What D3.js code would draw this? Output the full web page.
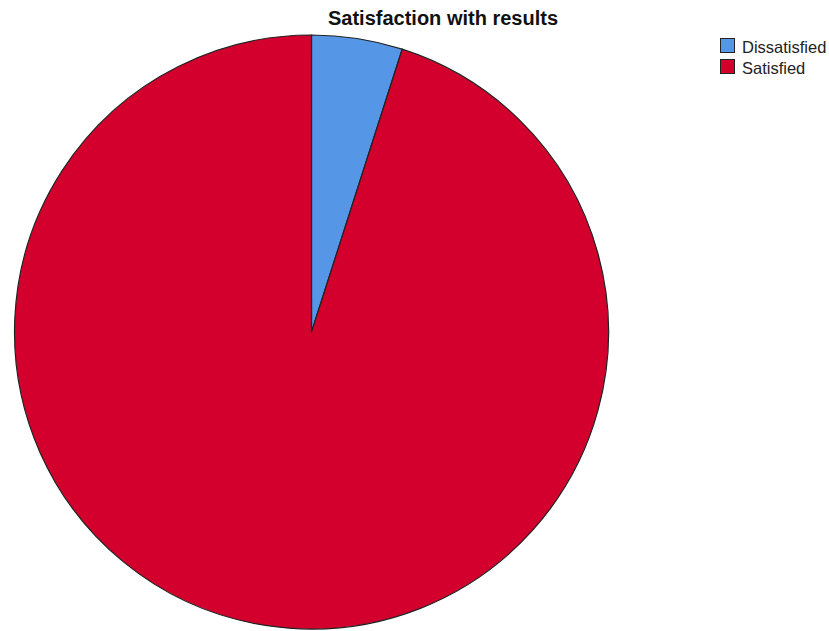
<!DOCTYPE html>
<html><head><meta charset="utf-8">
<script src="https://cdn.jsdelivr.net/npm/d3@7"></script>
<style>body{margin:0;background:#fff}svg{display:block}</style>
</head><body>
<script>
const categories = ["Dissatisfied", "Satisfied"];
const values = [4.94, 95.06];
const colors = ["#5596E6", "#D3002D"];
const title = "Satisfaction with results";

const W = 829, H = 631;
const svg = d3.select("body").append("svg").attr("width", W).attr("height", H);
const cx = 311.5, cy = 332, r = 297;

const pie = d3.pie().sort(null).value(d => d.v);
const arc = d3.arc().innerRadius(0).outerRadius(r);
const data = categories.map((c, i) => ({c, v: values[i]}));
const color = d3.scaleOrdinal().domain(categories).range(colors);

svg.append("g").attr("transform", `translate(${cx},${cy})`)
  .selectAll("path").data(pie(data)).join("path")
  .attr("d", arc).attr("fill", d => color(d.data.c))
  .attr("stroke", "#222").attr("stroke-width", 1.2).attr("stroke-linejoin", "round");

svg.append("text").attr("x", 443).attr("y", 25).attr("text-anchor", "middle")
  .attr("font-family", "Arial, 'Liberation Sans', sans-serif").attr("font-weight", "bold")
  .attr("font-size", 20).attr("fill", "#111").text(title);

const lg = svg.append("g").selectAll("g").data(categories).join("g")
  .attr("transform", (d, i) => `translate(720.5,${38.5 + i * 21})`);
lg.append("rect").attr("width", 14).attr("height", 14).attr("fill", d => color(d))
  .attr("stroke", "#222").attr("stroke-width", 1);
lg.append("text").attr("x", 21.5).attr("y", 14.5)
  .attr("font-family", "Arial, 'Liberation Sans', sans-serif").attr("font-size", 16.5)
  .attr("fill", "#222").text(d => d);
</script>
</body></html>
